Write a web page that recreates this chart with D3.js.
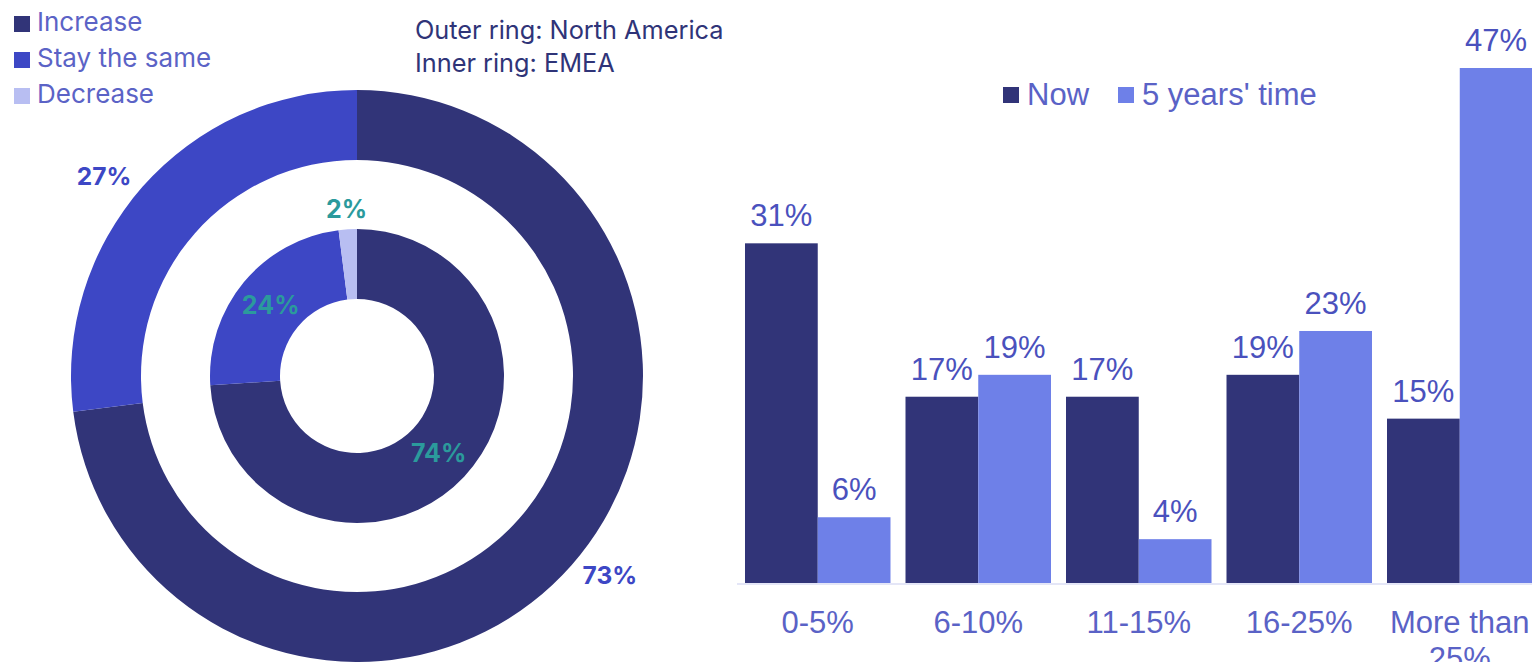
<!DOCTYPE html>
<html>
<head>
<meta charset="utf-8">
<script src="https://cdn.jsdelivr.net/npm/d3@7"></script>
<style>
  html, body { margin: 0; padding: 0; background: #ffffff; }
  svg { display: block; }
</style>
</head>
<body>
<svg id="chart" width="1532" height="662"></svg>
<script>
// ---- Donut data: share of respondents by expected change ----
const changeLabels = ["Increase", "Stay the same", "Decrease"];
const northAmerica = [73, 27, 0];   // outer ring
const emea = [74, 24, 2];           // inner ring

// ---- Bar data: share by range, now vs in five years ----
const ranges = ["0-5%", "6-10%", "11-15%", "16-25%", "More than 25%"];
const nowValues = [31, 17, 17, 19, 15];
const futureValues = [6, 19, 4, 23, 47];
const seriesNames = ["Now", "5 years' time"];

const changeColors = ["#313478", "#3d47c5", "#b8bef2"];
const seriesColors = ["#313478", "#6e80e8"];

const svg = d3.select("#chart");

// ---------------- Left legend ----------------
const legend = svg.append("g");
changeLabels.forEach((name, i) => {
  const row = legend.append("g").attr("transform", `translate(14, ${16 + i * 36})`);
  row.append("rect").attr("width", 16).attr("height", 16).attr("fill", changeColors[i]);
  row.append("text")
    .attr("x", 23).attr("y", 15)
    .attr("font-family", "Inter, 'Noto Sans', sans-serif")
    .attr("font-size", 26)
    .attr("fill", "#5b63c6")
    .text(name);
});

// ---------------- Ring caption ----------------
const caption = svg.append("g")
  .attr("font-family", "Inter, 'Noto Sans', sans-serif")
  .attr("font-size", 25.3)
  .attr("fill", "#2f3478");
caption.append("text").attr("x", 415).attr("y", 39).text("Outer ring: North America");
caption.append("text").attr("x", 415).attr("y", 72).text("Inner ring: EMEA");

// ---------------- Donut ----------------
const cx = 357, cy = 376;
const donut = svg.append("g").attr("transform", `translate(${cx},${cy})`);
const pie = d3.pie().sort(null).value(d => d);

const outerArc = d3.arc().innerRadius(216).outerRadius(286);
const innerArc = d3.arc().innerRadius(77).outerRadius(147);

const outerSlices = pie(northAmerica);
const innerSlices = pie(emea);

donut.selectAll("path.outer")
  .data(outerSlices)
  .join("path")
  .attr("class", "outer")
  .attr("d", outerArc)
  .attr("fill", (d, i) => changeColors[i]);

donut.selectAll("path.inner")
  .data(innerSlices)
  .join("path")
  .attr("class", "inner")
  .attr("d", innerArc)
  .attr("fill", (d, i) => changeColors[i]);

// Outer ring labels sit just outside the ring
const midAngle = d => (d.startAngle + d.endAngle) / 2;
const outerLabelAngle = d => midAngle(d) - 0.055;
donut.selectAll("text.outer")
  .data(outerSlices.filter(d => d.value > 0))
  .join("text")
  .attr("class", "outer")
  .attr("x", d => 322 * Math.sin(outerLabelAngle(d)))
  .attr("y", d => -322 * Math.cos(outerLabelAngle(d)))
  .attr("dy", "0.36em")
  .attr("text-anchor", "middle")
  .attr("font-family", "Inter, 'Noto Sans', sans-serif")
  .attr("font-weight", 700)
  .attr("font-size", 24.5)
  .attr("fill", "#3d47c5")
  .text(d => d.value + "%");

// Inner ring labels: centroid, or just outside for thin slices
donut.selectAll("text.inner")
  .data(innerSlices)
  .join("text")
  .attr("class", "inner")
  .attr("transform", d => {
    if (d.value < 5) {
      const a = midAngle(d);
      return `translate(${167 * Math.sin(a)},${-167 * Math.cos(a)})`;
    }
    return `translate(${innerArc.centroid(d)})`;
  })
  .attr("dy", "0.36em")
  .attr("text-anchor", "middle")
  .attr("font-family", "Inter, 'Noto Sans', sans-serif")
  .attr("font-weight", 700)
  .attr("font-size", 25)
  .attr("fill", "#2b9a9c")
  .text(d => d.value + "%");

// ---------------- Grouped bars ----------------
const y = d3.scaleLinear().domain([0, 47]).range([583, 68]);
const x0 = d3.scaleBand().domain(ranges).range([737.5, 1540])
  .paddingInner(0.0935).paddingOuter(0.0467);
const x1 = d3.scaleBand().domain(seriesNames).range([0, x0.bandwidth()]);

const rows = ranges.map((r, i) => ({ range: r, values: [nowValues[i], futureValues[i]] }));

// baseline
svg.append("line")
  .attr("x1", 737).attr("x2", 1532)
  .attr("y1", y(0) + 1).attr("y2", y(0) + 1)
  .attr("stroke", "#e4e6f7").attr("stroke-width", 2);

const groups = svg.selectAll("g.group")
  .data(rows)
  .join("g")
  .attr("class", "group")
  .attr("transform", d => `translate(${x0(d.range)},0)`);

groups.selectAll("rect")
  .data(d => d.values.map((v, i) => ({ key: seriesNames[i], value: v, i })))
  .join("rect")
  .attr("x", d => x1(d.key))
  .attr("y", d => y(d.value))
  .attr("width", x1.bandwidth())
  .attr("height", d => y(0) - y(d.value))
  .attr("fill", d => seriesColors[d.i]);

groups.selectAll("text.value")
  .data(d => d.values.map((v, i) => ({ key: seriesNames[i], value: v })))
  .join("text")
  .attr("class", "value")
  .attr("x", d => x1(d.key) + x1.bandwidth() / 2)
  .attr("y", d => y(d.value) - 17)
  .attr("text-anchor", "middle")
  .attr("font-family", "'Liberation Sans', Arial, sans-serif")
  .attr("font-size", 31)
  .attr("fill", "#4a51bd")
  .text(d => d.value + "%");

// category labels (wrapped onto two lines where long)
const catLabels = groups.append("text")
  .attr("text-anchor", "middle")
  .attr("font-family", "'Liberation Sans', Arial, sans-serif")
  .attr("font-size", 31)
  .attr("fill", "#5a62c6");
catLabels.each(function(d) {
  const t = d3.select(this);
  const lines = d.range === "More than 25%" ? ["More than", "25%"] : [d.range];
  lines.forEach((line, k) => {
    t.append("tspan")
      .attr("x", x0.bandwidth() / 2)
      .attr("y", 633 + k * 36)
      .text(line);
  });
});

// bar legend
const barLegend = svg.append("g")
  .attr("font-family", "'Liberation Sans', Arial, sans-serif")
  .attr("font-size", 31)
  .attr("fill", "#5a62c6");
const legendX = [1003, 1118];
seriesNames.forEach((name, i) => {
  barLegend.append("rect")
    .attr("x", legendX[i]).attr("y", 87)
    .attr("width", 16).attr("height", 16)
    .attr("fill", seriesColors[i]);
  barLegend.append("text")
    .attr("x", legendX[i] + 24).attr("y", 105)
    .text(name);
});
</script>
</body>
</html>
